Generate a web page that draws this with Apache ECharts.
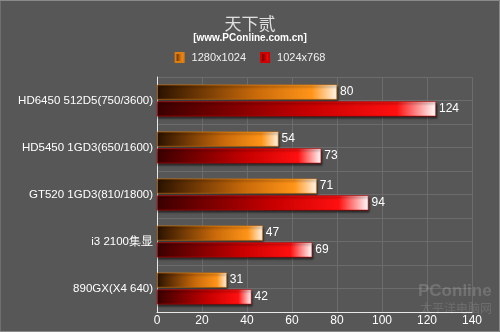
<!DOCTYPE html>
<html><head><meta charset="utf-8">
<script src="https://cdn.jsdelivr.net/npm/echarts@6/dist/echarts.min.js"></script>
<style>html,body{margin:0;padding:0;background:#575757;}#c{width:500px;height:332px;}</style>
</head><body><div id="c"></div>
<script>
var categories = ['HD6450 512D5(750/3600)', 'HD5450 1GD3(650/1600)', 'GT520 1GD3(810/1800)', 'i3 2100集显', '890GX(X4 640)'];
var seriesNames = ['1280x1024', '1024x768'];
var values1280 = [80, 54, 71, 47, 31];
var values1024 = [124, 73, 94, 69, 42];
var xTicks = [0, 20, 40, 60, 80, 100, 120, 140];

var chart = echarts.init(document.getElementById('c'), null, {renderer: 'canvas'});
var G = echarts.graphic.LinearGradient;
var orangeGrad = new G(0, 0, 1, 0, [
  {offset: 0, color: '#2a1200'}, {offset: 0.55, color: '#c96a0a'},
  {offset: 0.86, color: '#ff9418'}, {offset: 1, color: '#fff4e6'}]);
var redGrad = new G(0, 0, 1, 0, [
  {offset: 0, color: '#3a0000'}, {offset: 0.55, color: '#c80000'},
  {offset: 0.86, color: '#ff1010'}, {offset: 1, color: '#ffffff'}]);
var FONT = 'Liberation Sans';
var lbl = {show: true, position: 'right', color: '#ffffff', fontSize: 12, fontFamily: FONT, distance: 3};
chart.setOption({
  backgroundColor: '#575757',
  animation: false,
  title: {
    text: '天下贰', subtext: '[www.PConline.com.cn]', left: 'center', top: 10, itemGap: 1,
    textStyle: {color: '#e0e0e0', fontSize: 17, fontWeight: 'normal', fontFamily: 'Noto Sans CJK SC'},
    subtextStyle: {color: '#ffffff', fontSize: 10, fontWeight: 'bold', fontFamily: FONT}
  },
  legend: {
    data: seriesNames, top: 47, left: 'center', itemWidth: 8, itemHeight: 9, itemGap: 14, icon: 'rect',
    textStyle: {color: '#f0f0f0', fontSize: 11, fontFamily: FONT, padding: [0, 0, 0, 3]}
  },
  grid: {left: 157, right: 28, top: 77, bottom: 20, containLabel: false},
  xAxis: {
    type: 'value', min: 0, max: 140, interval: 20,
    axisLine: {show: true, lineStyle: {color: '#e8e8e8', width: 1}},
    axisTick: {show: false},
    axisLabel: {color: '#ffffff', fontSize: 12, fontFamily: FONT, margin: 3},
    splitLine: {show: true, lineStyle: {color: '#6c6c6c', width: 1}}
  },
  yAxis: [{
    type: 'category', data: categories, inverse: true,
    axisLine: {show: true, lineStyle: {color: '#e8e8e8', width: 1}},
    axisTick: {show: false},
    axisLabel: {color: '#ffffff', fontSize: 11.5, fontFamily: FONT, margin: 4},
    splitLine: {show: false}
  }, {
    type: 'value', min: 0, max: 10, interval: 1, position: 'right',
    axisLine: {show: false}, axisTick: {show: false}, axisLabel: {show: false},
    splitLine: {show: true, lineStyle: {color: '#6c6c6c', width: 1}}
  }],
  series: [{
    name: seriesNames[0], type: 'bar', data: values1280, barWidth: 15, barGap: '12%',
    itemStyle: {color: orangeGrad, borderColor: '#e07d10', borderWidth: 0.6,
      shadowColor: 'rgba(0,0,0,0.6)', shadowBlur: 2, shadowOffsetX: 1, shadowOffsetY: 2},
    label: lbl
  }, {
    name: seriesNames[1], type: 'bar', data: values1024, barWidth: 15,
    itemStyle: {color: redGrad, borderColor: '#d00000', borderWidth: 0.6,
      shadowColor: 'rgba(0,0,0,0.6)', shadowBlur: 2, shadowOffsetX: 1, shadowOffsetY: 2},
    label: lbl
  }],
  graphic: [
    {type: 'rect', shape: {x: 0, y: 0.5, width: 499.5, height: 331}, style: {fill: 'none', stroke: '#8a8a8a', lineWidth: 1}, silent: true},
    {type: 'text', left: 418, top: 283, style: {text: 'PConline', fill: 'rgba(255,255,255,0.16)', font: 'bold 17px Liberation Sans'}, silent: true, z: 100},
    {type: 'text', left: 420, top: 302, style: {text: '太平洋电脑网', fill: 'rgba(255,255,255,0.13)', font: '12px Noto Sans CJK SC'}, silent: true, z: 100}
  ]
});
</script></body></html>
